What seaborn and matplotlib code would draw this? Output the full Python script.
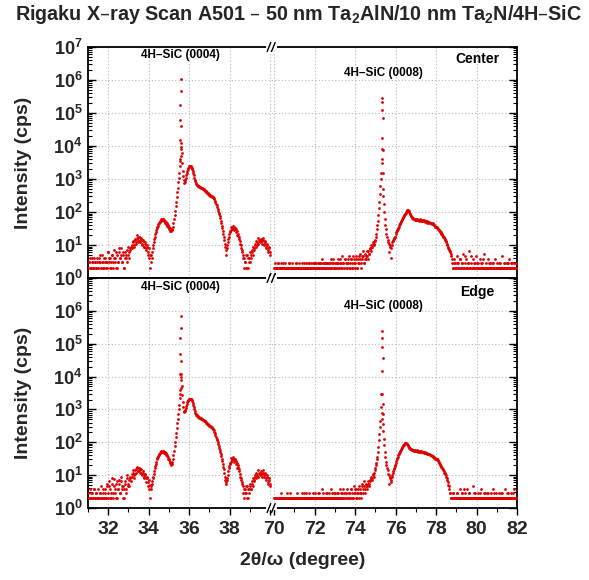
import numpy as np
import pandas as pd
import matplotlib
matplotlib.use("Agg")
import matplotlib.pyplot as plt
import seaborn as sns
from matplotlib.ticker import FixedLocator, NullFormatter

# ---------------------------------------------------------------- data
# scan step of the listed samples (degrees); two interleaved passes per range
STEP = 0.05

# ---- Center panel, 31-40 deg (starts 31.00 / 31.025)
center_low_a = [
    2, 3, 4, 2, 3, 2, 4, 3, 2, 3,
    2, 4, 3, 2, 5, 3, 2, 4, 3, 2,
    6, 3, 4, 2, 5, 3, 7, 4, 2, 5,
    3, 6, 4, 8, 3, 5, 2, 6, 4, 7,
    5, 6, 8, 10, 12, 9, 14, 11, 16, 12,
    18, 13, 15, 10, 14, 9, 12, 8, 10, 6,
    8, 5, 3, 6, 8, 12, 18, 25, 32, 38,
    45, 50, 55, 58, 60, 58, 55, 50, 46, 40,
    36, 32, 30, 28, 35, 60, 110, 200, 400, 800,
    1500, 4000, 9000, 3000, 1200, 760, 900, 1300, 1800, 2200,
    2400, 2450, 2350, 2000, 1500, 1100, 850, 720, 650, 610,
    580, 560, 540, 520, 500, 470, 440, 410, 380, 350,
    330, 315, 300, 290, 275, 240, 200, 160, 125, 95,
    75, 55, 38, 26, 18, 11, 7, 8, 12, 18,
    24, 28, 32, 34, 35, 33, 30, 26, 22, 17,
    13, 10, 7, 5, 4, 3, 5, 2, 4, 3,
    6, 4, 7, 5, 8, 10, 9, 12, 11, 14,
    12, 15, 13, 14, 11, 12, 9, 10, 7, 8,
    6]
center_low_b = [
    3, 2, 2, 4, 3, 2, 3, 2, 4, 2,
    3, 5, 2, 3, 2, 4, 3, 2, 3, 6,
    4, 2, 3, 5, 2, 4, 3, 6, 2, 3,
    8, 4, 5, 3, 6, 2, 4, 5, 3, 9,
    4, 7, 9, 8, 13, 10, 15, 12, 20, 14,
    17, 12, 16, 11, 13, 9, 11, 7, 9, 5,
    4, 2, 5, 4, 10, 15, 22, 28, 35, 42,
    48, 54, 62, 56, 60, 52, 48, 44, 38, 34,
    30, 26, 27, 30, 45, 80, 150, 280, 550, 1100,
    2500, 8000, 6000, 1800, 900, 800, 1100, 1500, 2000, 2300,
    2450, 2420, 2200, 1800, 1300, 950, 780, 680, 630, 600,
    570, 550, 530, 510, 485, 455, 425, 395, 365, 340,
    320, 305, 295, 285, 260, 220, 180, 140, 110, 85,
    65, 46, 32, 22, 14, 9, 5, 10, 15, 22,
    26, 36, 30, 38, 28, 31, 25, 20, 19, 15,
    11, 8, 6, 4, 2, 3, 2, 5, 2, 4,
    3, 5, 6, 9, 7, 11, 13, 10, 16, 13,
    14, 11, 16, 10, 13, 8, 11, 6, 9, 5]
center_peak1_x = [35.54, 35.55, 35.56, 35.57, 35.58, 35.59, 35.60, 35.61, 35.62]
center_peak1_y = [3500, 15000, 60000, 170000, 1050000, 450000, 40000, 12000, 5000]

# ---- Center panel, 70-82 deg (starts 70.00 / 70.025)
center_high_a = [
    2, 2.8, 2, 2, 2.8, 2, 2, 2.8, 2, 2,
    2, 2.8, 2, 2, 2, 2.8, 2, 2, 2.8, 2,
    2, 2, 2.8, 2, 2, 2.8, 2, 2, 2, 2.8,
    2, 2.8, 2, 2.8, 2, 2, 2.8, 2, 2.8, 2,
    2, 2.8, 2, 2.8, 2, 2.8, 2, 3.7, 2, 2.8,
    2, 2.8, 2.8, 2, 2.8, 2, 3.7, 2, 2.8, 2,
    2.8, 2, 2.8, 3.7, 2, 2.8, 2, 4.6, 2.8, 2,
    3.7, 2.8, 2, 2.8, 4.6, 2, 3.7, 2.8, 2, 3.7,
    2.8, 4.6, 2, 3.7, 2.8, 5.5, 2.8, 3.7, 4.6, 2.8,
    5.5, 3.7, 4.6, 6.5, 5.5, 8, 10, 9, 12, 11,
    14, 22, 40, 80, 200, 600, 1500, 8000, 300, 100,
    40, 22, 14, 11, 10, 8, 12, 13, 16, 18,
    22, 26, 30, 36, 42, 50, 58, 66, 75, 85,
    95, 108, 115, 105, 90, 78, 70, 64, 62, 60,
    58, 60, 57, 58, 56, 58, 55, 56, 54, 55,
    52, 53, 50, 49, 47, 46, 44, 42, 40, 36,
    36, 33, 30, 28, 25, 22, 20, 18, 16, 14,
    12, 10, 8, 7, 6, 4.6, 2.8, 2, 3.7, 2.8,
    2, 4.6, 2.8, 2, 3.7, 2, 2.8, 5.5, 2, 2.8,
    3.7, 2, 2.8, 6.5, 2, 2.8, 3.7, 2, 2.8, 4.6,
    2, 2.8, 2, 3.7, 2, 2.8, 2, 5.5, 2, 2.8,
    2, 3.7, 2, 2.8, 2, 2.8, 2, 2, 3.7, 2,
    2.8, 2, 2, 2.8, 2, 4.6, 2, 2.8, 2, 2,
    2.8, 2, 3.7, 2, 2.8, 2, 2, 2.8, 2, 2.8,
    2]
center_high_b = [
    2, 2, 2, 2.8, 2, 2, 2, 2, 2.8, 2,
    2, 2, 2, 2, 2.8, 2, 2, 2, 2, 2,
    2, 2.8, 2, 2, 2, 2, 2, 2.8, 2, 2,
    2, 2, 2, 2, 2.8, 2, 2, 2, 2, 2.8,
    2.8, 2, 2, 2, 2.8, 2, 2.8, 2, 2.8, 2,
    2.8, 2, 2, 2.8, 2, 2.8, 2, 2.8, 3.7, 2,
    2, 2.8, 2, 2.8, 2, 3.7, 2.8, 2, 2.8, 3.7,
    2, 2.8, 3.7, 2, 2.8, 3.7, 2, 4.6, 2.8, 2,
    3.7, 2, 2.8, 4.6, 3.7, 2, 4.6, 6.5, 2.8, 3.7,
    4.6, 6.5, 3.7, 5.5, 7.5, 6.5, 9, 11, 10, 13,
    18, 30, 55, 130, 350, 1000, 4000, 500, 180, 60,
    30, 18, 12, 6, 9, 4, 10, 14, 15, 17,
    24, 28, 33, 39, 46, 54, 62, 70, 80, 90,
    102, 112, 110, 98, 84, 74, 67, 63, 61, 59,
    62, 56, 59, 55, 60, 53, 57, 52, 56, 50,
    54, 48, 51, 45, 48, 43, 45, 40, 38, 34,
    34, 31, 29, 26, 24, 21, 19, 17, 15, 13,
    11, 9, 7.5, 6.5, 5.5, 3.7, 2, 2.8, 2, 2,
    2.8, 2, 2, 3.7, 2, 2.8, 2, 2, 4.6, 2,
    2, 2.8, 2, 2, 4.6, 2, 2, 2.8, 2, 2,
    2.8, 2, 2, 2, 2.8, 2, 3.7, 2, 2, 2,
    2, 2, 2.8, 2, 2, 2, 2.8, 2, 2, 2,
    2, 2, 2.8, 2, 2, 2, 2, 2, 2.8, 2,
    2, 2.8, 2, 2, 2, 2.8, 2, 2, 2.8, 2]
center_peak2_x = [75.31, 75.32, 75.33, 75.34, 75.35, 75.36, 75.37, 75.38]
center_peak2_y = [3000, 17000, 120000, 280000, 220000, 70000, 7600, 1500]

# ---- Edge panel, 31-40 deg
edge_low_a = [
    2.8, 2, 3.7, 2, 2.8, 2, 3.7, 2, 2.8, 2,
    3.7, 2, 2.8, 4.6, 2, 2.8, 2, 3.7, 2, 5.5,
    2.8, 6.5, 3.7, 2, 5.5, 2.8, 7.5, 3.7, 2, 6.5,
    3.7, 5.5, 2.8, 9, 3.7, 4.6, 2, 6.5, 3.7, 8,
    5.5, 7, 9, 11, 12, 10, 14, 12, 16, 13,
    17, 12, 15, 11, 13, 9, 11, 8, 9, 6,
    7, 5, 3.7, 5.5, 8, 11, 16, 22, 30, 36,
    42, 46, 50, 52, 54, 52, 50, 46, 42, 36,
    30, 26, 24, 22, 30, 55, 100, 190, 380, 750,
    1400, 4000, 8000, 2800, 1200, 830, 950, 1300, 1700, 2000,
    2100, 2150, 2050, 1800, 1350, 1000, 800, 690, 630, 590,
    560, 540, 520, 500, 480, 455, 430, 400, 370, 345,
    320, 305, 290, 275, 250, 210, 170, 130, 100, 78,
    60, 45, 32, 22, 15, 9, 6, 7, 10, 16,
    22, 26, 30, 32, 32, 30, 27, 24, 20, 15,
    11, 8, 6, 4.6, 3.7, 2.8, 4.6, 2, 3.7, 2.8,
    5.5, 3.7, 6.5, 4.6, 7, 9, 8, 10, 9, 12,
    10, 12, 11, 12, 10, 11, 8, 9, 6, 7,
    5.5]
edge_low_b = [
    2, 2, 2.8, 2, 2, 3.7, 2, 2.8, 2, 2,
    2, 2.8, 2, 2, 3.7, 2, 2.8, 2, 4.6, 2,
    4.6, 2, 2.8, 8, 2, 4.6, 2.8, 5.5, 2, 3.7,
    7, 2.8, 6.5, 4.6, 2, 3.7, 5.5, 2.8, 10, 4.6,
    4.6, 8, 6.5, 9, 14, 8, 11, 15, 18, 13,
    16, 14, 12, 10, 12, 8, 10, 6, 8, 4.6,
    3.7, 2, 4.6, 6.5, 9, 13, 19, 26, 33, 39,
    44, 48, 56, 50, 55, 48, 47, 42, 38, 32,
    28, 24, 21, 26, 40, 75, 140, 270, 520, 1000,
    2300, 12000, 5000, 1700, 900, 880, 1100, 1500, 1850, 2050,
    2150, 2100, 1950, 1600, 1150, 900, 740, 660, 610, 575,
    550, 530, 510, 490, 468, 442, 415, 385, 358, 332,
    312, 298, 283, 262, 230, 190, 150, 115, 88, 68,
    52, 38, 27, 18, 12, 7, 5.5, 8, 13, 19,
    24, 34, 28, 36, 26, 29, 22, 17, 18, 13,
    9, 7, 5.5, 2.8, 2, 3.7, 2.8, 4.6, 2, 3.7,
    4.6, 3.7, 5.5, 8, 6.5, 10, 12, 9, 14, 11,
    13, 9, 14, 9, 12, 7, 10, 5.5, 8, 4.6]
edge_peak1_x = [35.54, 35.55, 35.56, 35.57, 35.58, 35.59, 35.60, 35.61, 35.62]
edge_peak1_y = [3000, 12000, 50000, 150000, 700000, 300000, 30000, 10000, 4500]

# ---- Edge panel, 70-82 deg
edge_high_a = [
    2, 2, 2, 2, 2, 2, 2, 2.8, 2, 2,
    2, 2, 2, 2, 2, 2, 2.8, 2, 2, 2,
    2, 2, 2, 2.8, 2, 2, 2, 2, 2, 2.8,
    2, 2, 2, 2, 2.8, 2, 2, 2, 2, 2,
    2.8, 2, 2, 2, 2.8, 2, 2, 3.7, 2, 2,
    2, 2.8, 2, 2, 2.8, 2, 2, 2.8, 2, 2,
    2.8, 2, 2, 2.8, 2, 3.7, 2, 2.8, 2, 2.8,
    2, 2.8, 3.7, 2, 2.8, 2, 3.7, 2.8, 2, 4.6,
    2.8, 3.7, 2, 2.8, 4.6, 3.7, 2.8, 5.5, 3.7, 4.6,
    3.7, 5.5, 4.6, 6.5, 5.5, 7, 9, 8, 10, 12,
    16, 24, 36, 70, 180, 460, 1200, 500, 220, 80,
    35, 20, 14, 10, 8, 6, 9, 12, 15, 19,
    24, 30, 36, 44, 52, 60, 68, 76, 85, 92,
    95, 90, 80, 72, 66, 62, 60, 58, 56, 57,
    55, 56, 53, 55, 52, 54, 51, 52, 50, 49,
    48, 46, 45, 44, 42, 40, 38, 36, 34, 30,
    32, 30, 27, 24, 21, 18, 16, 14, 12, 11,
    9, 7, 5, 3.7, 2.8, 2, 2, 2.8, 2, 2,
    2, 2.8, 2, 2, 3.7, 2, 2.8, 2, 2, 2.8,
    2, 3.7, 2, 2.8, 2, 2, 4.6, 2, 2.8, 2,
    2, 2.8, 2, 2, 3.7, 2, 2, 2.8, 2, 2,
    2.8, 2, 2, 2, 2.8, 2, 3.7, 2, 2, 2.8,
    2, 2, 2.8, 2, 2, 2.8, 2, 2, 3.7, 2,
    2, 2.8, 2, 2, 2.8, 2, 2, 3.7, 2, 2,
    2]
edge_high_b = [
    2, 2, 2, 2, 2, 2, 2, 2, 2, 2,
    2, 2, 2.8, 2, 2, 2, 2, 2, 2, 2,
    2, 2, 2, 2, 2, 2, 2, 2.8, 2, 2,
    2, 2.8, 2, 2, 2, 2, 2, 2, 2.8, 2,
    2, 2, 2, 2.8, 2, 2, 2, 2, 2.8, 2,
    2, 2, 2.8, 2, 2, 2, 3.7, 2, 2, 2.8,
    2, 2, 2.8, 2, 2, 2, 2.8, 2, 3.7, 2,
    2.8, 2, 2, 2.8, 2, 3.7, 2, 2, 2.8, 3.7,
    2, 2.8, 3.7, 2, 2.8, 2, 4.6, 2.8, 6.5, 2.8,
    4.6, 3.7, 5.5, 4.6, 6.5, 8, 7, 11, 9, 14,
    20, 30, 50, 120, 300, 3000, 800, 350, 130, 50,
    26, 16, 11, 5.5, 9, 7, 10, 13, 17, 21,
    27, 33, 40, 48, 56, 64, 72, 80, 88, 94,
    93, 86, 76, 69, 64, 61, 59, 57, 55, 56,
    54, 57, 52, 56, 51, 53, 50, 51, 48, 47,
    47, 45, 44, 43, 41, 39, 37, 35, 33, 31,
    31, 28, 25, 22, 19, 17, 15, 13, 12, 10,
    8, 6, 4.6, 2.8, 2, 2, 2.8, 2, 2, 2,
    2.8, 2, 2, 2, 2, 2.8, 2, 3.7, 2, 2,
    2, 2, 2.8, 2, 2, 2, 2, 2.8, 2, 2,
    2, 2, 2, 2.8, 2, 2, 2, 2, 2.8, 2,
    2, 2.8, 2, 2, 2, 2, 2, 2.8, 2, 2,
    2, 2, 2, 2, 2.8, 2, 2, 2, 2, 2,
    2.8, 2, 2, 2, 2, 2, 2.8, 2, 2, 2]
edge_peak2_x = [75.31, 75.32, 75.33, 75.34, 75.35, 75.36, 75.37, 75.38]
edge_peak2_y = [3000, 15000, 77000, 250000, 150000, 38000, 1500, 740]

x_major = [32, 34, 36, 38, 40, 70, 72, 74, 76, 78, 80, 82]
x_major_labels = ["32", "34", "36", "38", "", "70", "72", "74", "76", "78", "80", "82"]
x_minor = [31, 33, 35, 37, 39, 71, 73, 75, 77, 79, 81]
y_exponents = [0, 1, 2, 3, 4, 5, 6, 7]

title = "Rigaku X\u2013ray Scan A501 \u2013 50 nm Ta$_\\mathdefault{2}$AlN/10 nm Ta$_\\mathdefault{2}$N/4H\u2013SiC"
peak_labels = ["4H\u2013SiC (0004)", "4H\u2013SiC (0008)"]
panel_names = ["Center", "Edge"]


# ---------------------------------------------------------------- helpers
def scan(start, values):
    return pd.DataFrame({"two_theta": start + STEP * np.arange(len(values)),
                         "cps": values})


def points(xs, ys):
    return pd.DataFrame({"two_theta": xs, "cps": ys})


center_df = pd.concat([
    scan(31.0, center_low_a), scan(31.025, center_low_b),
    points(center_peak1_x, center_peak1_y),
    scan(70.0, center_high_a), scan(70.025, center_high_b),
    points(center_peak2_x, center_peak2_y)], ignore_index=True)
edge_df = pd.concat([
    scan(31.0, edge_low_a), scan(31.025, edge_low_b),
    points(edge_peak1_x, edge_peak1_y),
    scan(70.0, edge_high_a), scan(70.025, edge_high_b),
    points(edge_peak2_x, edge_peak2_y)], ignore_index=True)

BREAK = 40.05
GAP = 29.8
XMIN, XMAX = 31.0, 82.0


def fwd(x):
    x = np.asarray(x, dtype=float)
    return np.where(x <= BREAK, x, np.maximum(x - GAP, BREAK))


def inv(u):
    u = np.asarray(u, dtype=float)
    return np.where(u < BREAK, u, u + GAP)


# ---------------------------------------------------------------- figure
sns.set_theme(style="ticks")
plt.rcParams['font.family'] = ['Liberation Sans', 'DejaVu Sans']
plt.rcParams['font.weight'] = 'bold'
plt.rcParams['axes.labelweight'] = 'bold'

fig = plt.figure(figsize=(5.89, 5.80), dpi=100)
W = 0.7284
ax_top = fig.add_axes([0.1494, 0.5207, W, 0.3983])
ax_bot = fig.add_axes([0.1494, 0.1241, W, 0.3966])

RED = '#e00000'
xb = (BREAK - XMIN) / (fwd(XMAX) - XMIN)

for ax, df, name, ypos in [
        (ax_top, center_df, panel_names[0], (6.76, 6.20, 6.64)),
        (ax_bot, edge_df, panel_names[1], (6.73, 6.15, 6.58))]:
    sns.scatterplot(data=df, x="two_theta", y="cps", ax=ax, s=4.0,
                    color=RED, linewidth=0, legend=False, zorder=3)
    ax.set_yscale('log')
    ax.set_xscale('function', functions=(fwd, inv))
    ax.set_xlim(XMIN, XMAX)
    ax.set_ylim(1, 1e7)

    ax.xaxis.set_major_locator(FixedLocator(x_major))
    ax.xaxis.set_minor_locator(FixedLocator(x_minor))
    ax.set_xticklabels(x_major_labels)
    ax.xaxis.set_minor_formatter(NullFormatter())

    ax.set_yticks([10.0 ** e for e in y_exponents])
    ylabels = ["$\\mathdefault{10^{%d}}$" % e for e in y_exponents]
    if ax is ax_bot:
        ylabels[-1] = ""
    ax.set_yticklabels(ylabels)
    ax.yaxis.set_minor_locator(FixedLocator(
        [k * 10.0 ** d for d in range(7) for k in range(2, 10)]))
    ax.yaxis.set_minor_formatter(NullFormatter())

    ax.grid(True, which='major', linestyle=(0, (1, 2)), color='#b8b8b8', lw=0.8)
    ax.set_axisbelow(True)

    ax.tick_params(axis='y', which='major', direction='in', length=6, width=1,
                   left=True, right=True, labelsize=13, pad=4, color='black')
    ax.tick_params(axis='y', which='minor', direction='in', length=3, width=0.8,
                   left=True, right=True, color='black')
    for sp in ax.spines.values():
        sp.set_color('black')
        sp.set_linewidth(1.3)

    ax.set_ylabel("Intensity (cps)", fontsize=14, fontweight='bold')
    ax.yaxis.set_label_coords(-0.13, 0.5)

    ax.text(35.58, 10 ** ypos[0], peak_labels[0], ha='center', va='center',
            fontsize=8.5, fontweight='bold', color='black')
    ax.text(75.39, 10 ** ypos[1], peak_labels[1], ha='center', va='center',
            fontsize=8.5, fontweight='bold', color='black')
    ax.text(80.05, 10 ** ypos[2], name, ha='center', va='center',
            fontsize=10, fontweight='bold', color='black')

    # axis break marks on the horizontal frame lines
    for yy in (0.0, 1.0):
        ax.plot([xb - 3.5 / 429, xb + 3.5 / 429], [yy, yy], color='white',
                lw=3, transform=ax.transAxes, clip_on=False, zorder=10)
        for off in (-2.2, 2.2):
            ax.plot([xb + (off - 1.8) / 429, xb + (off + 1.8) / 429],
                    [yy - 4.5 / 231, yy + 4.5 / 231], color='black', lw=1,
                    transform=ax.transAxes, clip_on=False, zorder=11)

ax_top.tick_params(axis='x', which='both', bottom=False, top=False,
                   labelbottom=False)
ax_top.set_xlabel("")
ax_bot.tick_params(axis='x', which='major', direction='out', length=5, width=1,
                   bottom=True, top=False, labelsize=14, pad=4, color='black')
ax_bot.tick_params(axis='x', which='minor', direction='out', length=3, width=0.8,
                   bottom=True, top=False, color='black')
ax_bot.set_xlabel("2\u03b8/\u03c9 (degree)", fontsize=14, fontweight='bold')
ax_bot.xaxis.set_label_coords(0.5, -0.19)

fig.text(0.506, 1 - 15 / 580, title, ha='center', va='center',
         fontsize=14.2, fontweight='bold')

fig.savefig("out.png", dpi=100)
